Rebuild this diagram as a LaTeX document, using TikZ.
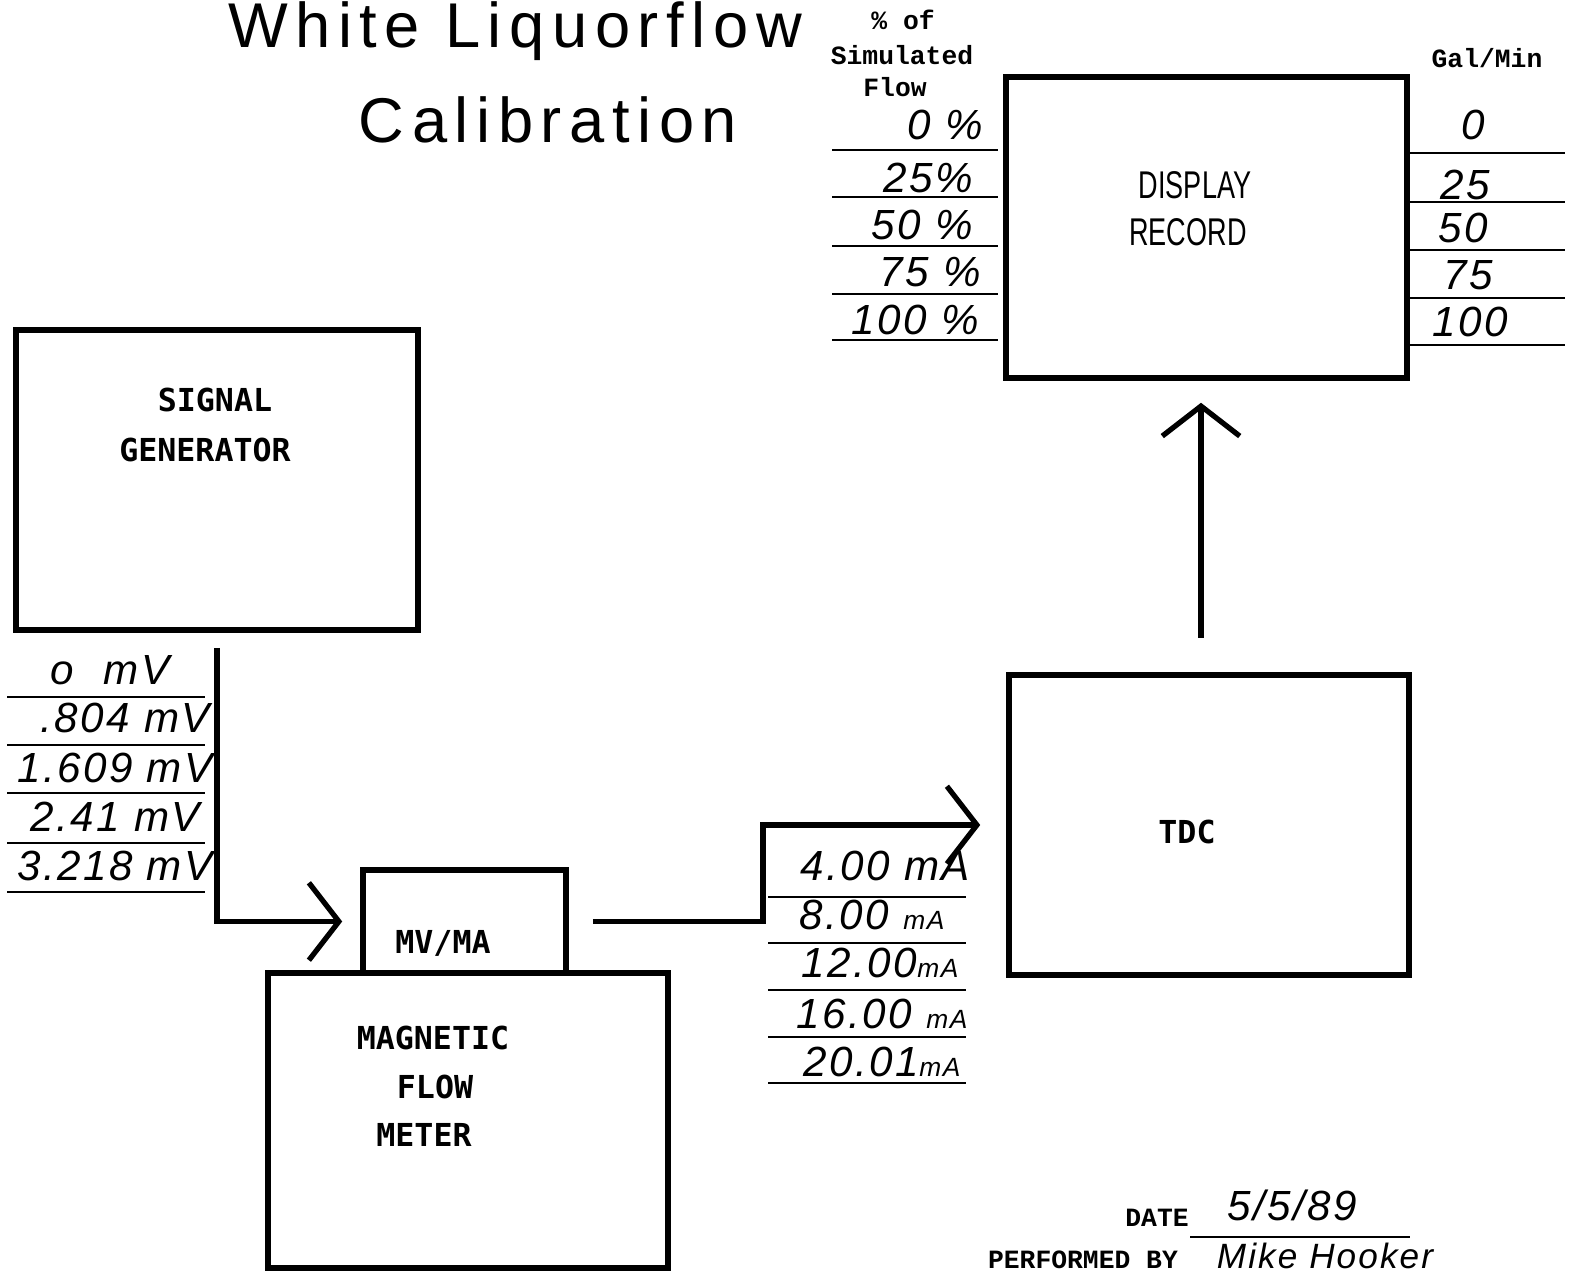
\documentclass[tikz,border=0pt]{standalone}
\usepackage{fontspec}
\usetikzlibrary{arrows.meta}
\newfontfamily\handfont[LetterSpace=6]{Liberation Sans}
\newfontfamily\titlefont[LetterSpace=12]{Liberation Sans}
\newfontfamily\typefont{Liberation Mono}
\newfontfamily\boxfont{DejaVu Sans Mono}
\newfontfamily\narrowfont[FakeStretch=0.7]{Liberation Sans}
\newcommand\unitfont{\fontsize{15}{15}\selectfont}
\begin{document}
\begin{tikzpicture}[
    x=0.02cm,y=-0.02cm,
    box/.style={draw,line width=3.2pt,inner sep=0pt},
    rule/.style={line width=1.4pt},
    flow/.style={line width=3pt},
    chev/.style={-{Straight Barb[length=0.6cm,width=1.55cm]}},
    hand/.style={font=\handfont\itshape\fontsize{24}{24}\selectfont,inner sep=0pt},
    title/.style={font=\titlefont\fontsize{36}{36}\selectfont,inner sep=0pt,anchor=base},
    typed/.style={font=\typefont\bfseries\fontsize{15}{17}\selectfont,inner sep=0pt},
    boxlabel/.style={font=\boxfont\bfseries\fontsize{18}{20}\selectfont,inner sep=0pt}
]
\useasboundingbox (0,0) rectangle (1573,1273);

% title
\node[title] (t1) at (515,48) {White Liquorflow};
\node[title] (t2) at (548,143) {Calibration};

% boxes
\node[box,minimum width=8.04cm,minimum height=6cm] (sg) at (217,480) {};
\node[box,minimum width=8.02cm,minimum height=6.02cm] (disp) at (1206.5,227.5) {};
\node[box,minimum width=8cm,minimum height=6cm] (tdc) at (1209,825) {};
\node[box,minimum width=4.06cm,minimum height=2.06cm] (mvma) at (464.5,921.5) {};
\node[box,minimum width=8cm,minimum height=5.9cm] (meter) at (468,1120.5) {};

\node[boxlabel] (sg1) at (215,400) {SIGNAL};
\node[boxlabel] (sg2) at (205,450) {GENERATOR};
\node[font=\narrowfont\fontsize{22}{22}\selectfont,inner sep=0pt] (d1) at (1195,185) {DISPLAY};
\node[font=\narrowfont\fontsize{22}{22}\selectfont,inner sep=0pt] (d2) at (1188,232) {RECORD};
\node[boxlabel] (tdclab) at (1187,832) {TDC};
\node[boxlabel] (mvlab) at (443,943) {MV/MA};
\node[boxlabel] (m1) at (433,1038) {MAGNETIC};
\node[boxlabel] (m2) at (435,1087) {FLOW};
\node[boxlabel] (m3) at (424,1135) {METER};

% connectors
\coordinate (sgout) at (217,648);
\draw[flow,chev,shorten >=0.36cm] (sgout) |- (mvma.west);
\draw[flow,chev,shorten <=0.48cm,shorten >=0.52cm] (mvma.east) -- (763,921.5) |- (tdc.west);
\coordinate (tdcout) at (1201,638);
\draw[flow,chev,shorten >=0.44cm] (tdcout) -- (tdcout |- disp.south);

% % of simulated flow
\node[typed] (h1) at (903,20) {\% of};
\node[typed] (h2) at (902,55) {Simulated};
\node[typed] (h3) at (895,87) {Flow};
\draw[rule] (832,150) -- (998,150);
\draw[rule] (832,197) -- (998,197);
\draw[rule] (832,246) -- (998,246);
\draw[rule] (832,294) -- (998,294);
\draw[rule] (832,340) -- (998,340);
\node[hand] (p0) at (945,125) {0 \%};
\node[hand] (p25) at (928,178) {25\%};
\node[hand] (p50) at (922,225) {50 \%};
\node[hand] (p75) at (930,272) {75 \%};
\node[hand] (p100) at (915,320) {100 \%};

% gal/min
\node[typed] (h4) at (1487,58) {Gal/Min};
\draw[rule] (1407,153) -- (1565,153);
\draw[rule] (1407,202) -- (1565,202);
\draw[rule] (1407,250) -- (1565,250);
\draw[rule] (1407,298) -- (1565,298);
\draw[rule] (1407,345) -- (1565,345);
\node[hand] (g0) at (1473,125) {0};
\node[hand] (g25) at (1465,185) {25};
\node[hand] (g50) at (1463,228) {50};
\node[hand] (g75) at (1468,275) {75};
\node[hand] (g100) at (1470,322) {100};

% mV
\draw[rule] (7,697) -- (205,697);
\draw[rule] (7,745) -- (205,745);
\draw[rule] (7,793) -- (205,793);
\draw[rule] (7,843) -- (205,843);
\draw[rule] (7,892) -- (205,892);
\node[hand] (v0) at (110,670) {o\hspace{0.6cm}mV};
\node[hand] (v1) at (125,718) {.804 mV};
\node[hand] (v2) at (115,768) {1.609 mV};
\node[hand] (v3) at (115,817) {2.41 mV};
\node[hand] (v4) at (115,866) {3.218 mV};

% mA
\draw[rule] (768,897) -- (966,897);
\draw[rule] (768,943) -- (966,943);
\draw[rule] (768,990) -- (966,990);
\draw[rule] (768,1037) -- (966,1037);
\draw[rule] (768,1083) -- (966,1083);
\node[hand] (a0) at (885,866) {4.00 mA};
\node[hand] (a1) at (872,915) {8.00 {\unitfont mA}};
\node[hand] (a2) at (880,963) {12.00{\unitfont mA}};
\node[hand] (a3) at (882,1014) {16.00 {\unitfont mA}};
\node[hand] (a4) at (882,1062) {20.01{\unitfont mA}};

% date
\node[typed] (date) at (1157,1218) {DATE};
\draw[rule] (1190,1237) -- (1410,1237);
\node[hand] (dval) at (1292,1205) {5/5/89};
\node[typed] (perf) at (1083,1260) {PERFORMED BY};
\node[hand,font=\handfont\itshape\fontsize{20}{20}\selectfont] (sign) at (1325,1256) {Mike Hooker};
\end{tikzpicture}
\end{document}
